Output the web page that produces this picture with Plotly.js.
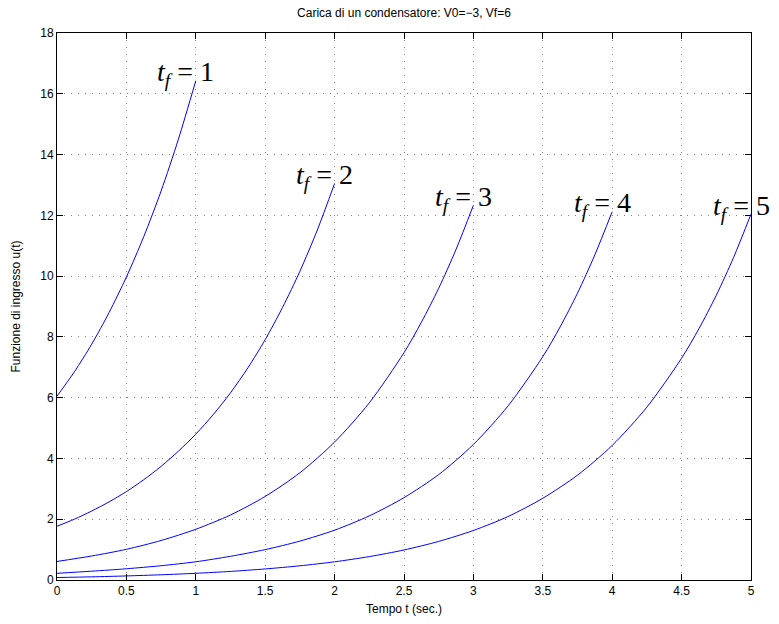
<!DOCTYPE html>
<html>
<head>
<meta charset="utf-8">
<script src="https://cdn.plot.ly/plotly-3.0.1.min.js"></script>
<style>html,body{margin:0;padding:0;background:#fff;}#chart{width:779px;height:624px;}</style>
</head>
<body>
<div id="chart"></div>
<script>
// Time samples (s)
const t1 = [0, 0.125, 0.25, 0.375, 0.5, 0.625, 0.75, 0.875, 1.0];
const t2 = [0, 0.125, 0.25, 0.375, 0.5, 0.625, 0.75, 0.875, 1.0, 1.125, 1.25, 1.375, 1.5, 1.625, 1.75, 1.875, 2.0];
const t3 = [0, 0.25, 0.5, 0.75, 1.0, 1.25, 1.5, 1.75, 2.0, 2.25, 2.5, 2.625, 2.75, 2.875, 3.0];
const t4 = [0, 0.25, 0.5, 0.75, 1.0, 1.25, 1.5, 1.75, 2.0, 2.25, 2.5, 2.75, 3.0, 3.25, 3.5, 3.625, 3.75, 3.875, 4.0];
const t5 = [0, 0.25, 0.5, 0.75, 1.0, 1.25, 1.5, 1.75, 2.0, 2.25, 2.5, 2.75, 3.0, 3.25, 3.5, 3.75, 4.0, 4.25, 4.5, 4.625, 4.75, 4.875, 5.0];

// Input u(t)
const u1 = [6.05, 6.85, 7.76, 8.80, 9.97, 11.30, 12.80, 14.51, 16.43];
const u2 = [1.77, 2.00, 2.27, 2.57, 2.91, 3.30, 3.74, 4.24, 4.80, 5.44, 6.16, 6.98, 7.91, 8.97, 10.16, 11.51, 13.05];
const u3 = [0.61, 0.79, 1.01, 1.30, 1.67, 2.14, 2.75, 3.53, 4.54, 5.83, 7.48, 8.48, 9.60, 10.88, 12.33];
const u4 = [0.22, 0.29, 0.37, 0.47, 0.60, 0.78, 1.00, 1.28, 1.64, 2.11, 2.71, 3.47, 4.46, 5.73, 7.35, 8.33, 9.44, 10.70, 12.12];
const u5 = [0.081, 0.104, 0.134, 0.172, 0.220, 0.283, 0.364, 0.467, 0.599, 0.770, 0.988, 1.27, 1.63, 2.09, 2.69, 3.45, 4.43, 5.69, 7.30, 8.27, 9.37, 10.62, 12.04];

const labels = ["1", "2", "3", "4", "5"];
const xTicks = [0, 0.5, 1, 1.5, 2, 2.5, 3, 3.5, 4, 4.5, 5];
const xTickText = ["0", "0.5", "1", "1.5", "2", "2.5", "3", "3.5", "4", "4.5", "5"];
const yTicks = [0, 2, 4, 6, 8, 10, 12, 14, 16, 18];

const ts = [t1, t2, t3, t4, t5];
const us = [u1, u2, u3, u4, u5];

const traces = ts.map((t, i) => ({
  x: t, y: us[i], type: 'scatter', mode: 'lines',
  line: {color: '#0000ff', width: 1, shape: 'spline', smoothing: 0.8},
  hoverinfo: 'skip', showlegend: false
}));

const annotations = ts.map((t, i) => ({
  x: t[t.length - 1], y: us[i][us[i].length - 1],
  xref: 'x', yref: 'y', showarrow: false,
  xanchor: 'center', yanchor: 'middle', xshift: -10, yshift: 7,
  text: '<i>t</i><sub><i>f</i></sub> = ' + labels[i],
  font: {family: 'Liberation Serif, DejaVu Serif, serif', size: 28, color: '#000'}
}));

const axisCommon = {
  showline: true, linecolor: '#000', linewidth: 1, mirror: 'ticks',
  ticks: 'inside', ticklen: 6, tickcolor: '#000', tickwidth: 1,
  showgrid: true, gridcolor: '#808080', gridwidth: 1, griddash: '1px,6px',
  zeroline: false,
  tickfont: {family: 'Liberation Sans, Arial, sans-serif', size: 12, color: '#000'}
};

const layout = {
  width: 779, height: 624,
  margin: {l: 57, r: 28, t: 33, b: 44},
  paper_bgcolor: '#fff', plot_bgcolor: '#fff',
  title: {text: 'Carica di un condensatore: V0=\u22123, Vf=6', x: 0.5186, xanchor: 'center', y: 0.979, yref: 'container', yanchor: 'middle',
          font: {family: 'Liberation Sans, Arial, sans-serif', size: 12, color: '#000'}},
  xaxis: Object.assign({}, axisCommon, {
    range: [0, 5], tickmode: 'array', tickvals: xTicks, ticktext: xTickText,
    title: {text: 'Tempo t (sec.)', standoff: 7, font: {family: 'Liberation Sans, Arial, sans-serif', size: 12, color: '#000'}}
  }),
  yaxis: Object.assign({}, axisCommon, {
    range: [0, 18], tickmode: 'array', tickvals: yTicks,
    title: {text: 'Funzione di ingresso u(t)', standoff: 17, font: {family: 'Liberation Sans, Arial, sans-serif', size: 12, color: '#000'}}
  }),
  annotations: annotations
};

Plotly.newPlot('chart', traces, layout, {displayModeBar: false, staticPlot: true});
</script>
</body>
</html>
